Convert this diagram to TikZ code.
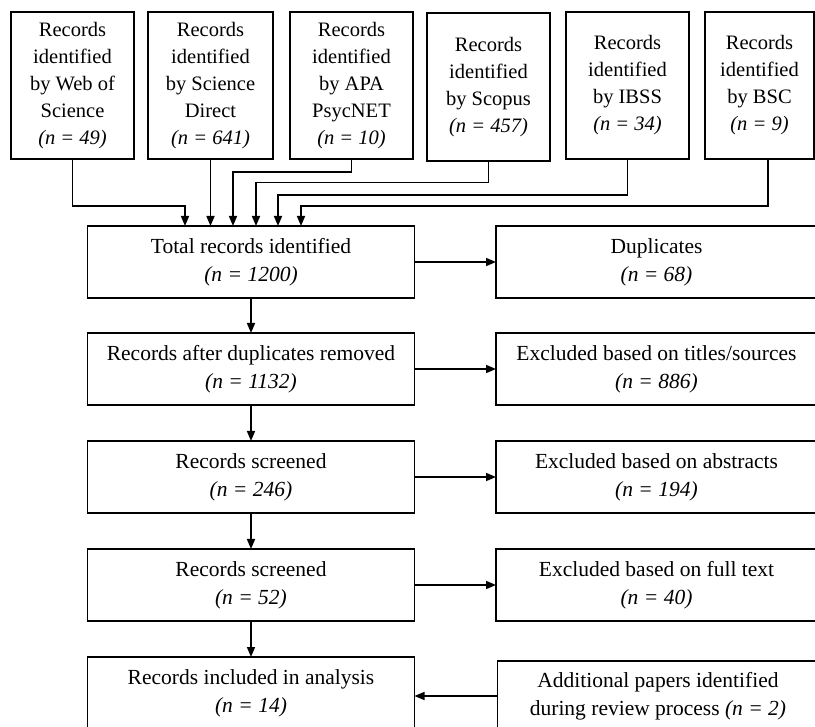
\documentclass[tikz,border=0pt]{standalone}
\usepackage{fontspec}
\setmainfont{Liberation Serif}
\usetikzlibrary{arrows.meta, positioning}

\begin{document}
\begin{tikzpicture}[x=1pt, y=-1pt, line width=1.5pt, font=\fontsize{20.5}{27}\selectfont]

	\tikzset{
		srcbox/.style={
				rectangle, draw, align=center, inner sep=0pt, outer sep=0pt, minimum width=123pt, minimum height=147pt
			},
		stagebox/.style={
				rectangle, draw, align=center, inner sep=0pt, outer sep=0pt, minimum width=327pt, minimum height=72pt,
				font=\fontsize{21.5}{28}\selectfont
			},
		sidebox/.style={
				rectangle, draw, align=center, inner sep=0pt, outer sep=0pt, minimum width=321pt, minimum height=72pt,
				font=\fontsize{21.5}{28}\selectfont
			},
		arr/.style={-{Triangle[length=10pt, width=8pt]}},
	}
	\useasboundingbox (0,0) rectangle (815,727);
	\clip (0,0) rectangle (815,727);

	% sources
	\node[srcbox] at (72.5,85.5) (wos){Records\\identified\\by Web of\\Science\\\textit{(n = 49)}};
	\node[srcbox, right=14pt of wos, minimum width=125pt](sd){Records\\identified\\by Science\\Direct\\\textit{(n = 641)}};
	\node[srcbox, right=17pt of sd](apa){Records\\identified\\by APA\\PsycNET\\\textit{(n = 10)}};
	\node[srcbox, right=14pt of apa, yshift=-1.5pt, minimum height=148pt](scopus){Records\\identified\\by Scopus\\\textit{(n = 457)}};
	\node[srcbox, right=16pt of scopus, yshift=1.5pt](ibss){Records\\identified\\by IBSS\\\textit{(n = 34)}};
	\node[srcbox, right=16pt of ibss, minimum width=109pt](bsc){Records\\identified\\by BSC\\\textit{(n = 9)}};

	% main column
	\node[stagebox] at (251,262) (total){Total records identified\\\textit{(n = 1200)}};
	\node[stagebox, below=35pt of total](after){Records after duplicates removed\\\textit{(n = 1132)}};
	\node[stagebox, below=36pt of after](scr1){Records screened\\\textit{(n = 246)}};
	\node[stagebox, below=36pt of scr1](scr2){Records screened\\\textit{(n = 52)}};
	\node[stagebox, below=36pt of scr2](incl){Records included in analysis\\\textit{(n = 14)}};

	% exclusions
	\node[sidebox, right=81.5pt of total](dup){Duplicates\\\textit{(n = 68)}};
	\node[sidebox, right=81.5pt of after](titles){Excluded based on titles/sources\\\textit{(n = 886)}};
	\node[sidebox, right=81.5pt of scr1](abstr){Excluded based on abstracts\\\textit{(n = 194)}};
	\node[sidebox, right=81.5pt of scr2](fulltext){Excluded based on full text\\\textit{(n = 40)}};
	\node[sidebox, right=83pt of incl, yshift=-3pt, minimum height=70pt](addl){Additional papers identified\\during review process \textit{(n = 2)}};

	% entries into total
	\coordinate (entry1) at ([xshift=97.5pt]total.north west);
	\coordinate (entry3) at ([xshift=145.5pt]total.north west);
	\coordinate (entry4) at ([xshift=168.5pt]total.north west);
	\coordinate (entry5) at ([xshift=190.5pt]total.north west);
	\coordinate (entry6) at ([xshift=213.5pt]total.north west);

	\draw[arr] (wos.south) |- ([yshift=20pt]entry1) -- (entry1);
	\draw[arr] (sd.south) -- (sd.south |- total.north);
	\draw[arr] (apa.south) |- ([yshift=54pt]entry3) -- (entry3);
	\draw[arr] (scopus.south) |- ([yshift=43.5pt]entry4) -- (entry4);
	\draw[arr] (ibss.south) |- ([yshift=31pt]entry5) -- (entry5);
	\draw[arr] ([xshift=8.5pt]bsc.south) |- ([yshift=20pt]entry6) -- (entry6);

	\draw[arr] (total) -- (after);
	\draw[arr] (after) -- (scr1);
	\draw[arr] (scr1) -- (scr2);
	\draw[arr] (scr2) -- (incl);

	\draw[arr] (total) -- (dup);
	\draw[arr] (after) -- (titles);
	\draw[arr] (scr1) -- (abstr);
	\draw[arr] (scr2) -- (fulltext);
	\draw[arr] (addl.west) -- (addl.west -| incl.east);

\end{tikzpicture}
\end{document}
